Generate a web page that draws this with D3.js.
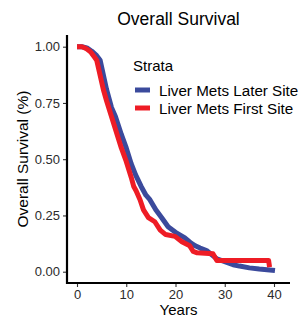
<!DOCTYPE html>
<html>
<head>
<meta charset="utf-8">
<script src="https://cdn.jsdelivr.net/npm/d3@7"></script>
<style>
  html, body { margin: 0; padding: 0; background: #fff; }
  svg { display: block; font-family: "Liberation Sans", Arial, sans-serif; }
</style>
</head>
<body>
<svg id="chart" width="301" height="324"></svg>
<script>
// ---- data ----
const title = "Overall Survival";
const xLabel = "Years";
const yLabel = "Overall Survival (%)";
const legendTitle = "Strata";
const strata = ["Liver Mets Later Site", "Liver Mets First Site"];
const strataColors = ["#3B4A9C", "#EE1C25"];

const xTicks = [0, 10, 20, 30, 40];
const yTicks = [0, 0.25, 0.5, 0.75, 1];
const yTickLabels = ["0.00", "0.25", "0.50", "0.75", "1.00"];

const laterTime = [0, 1, 2, 3, 4, 4.7, 6, 7, 7.8, 9, 10, 11, 11.9, 13, 14, 14.8, 16, 17.2, 18.5, 20, 21.9, 23, 24, 25, 26.3, 28.4, 30, 31.7, 33, 35, 37, 38.6, 40.2];
const laterSurv = [1, 1, 0.995, 0.98, 0.96, 0.94, 0.81, 0.73, 0.69, 0.61, 0.55, 0.48, 0.43, 0.38, 0.34, 0.32, 0.275, 0.24, 0.20, 0.175, 0.15, 0.13, 0.115, 0.105, 0.094, 0.057, 0.045, 0.031, 0.025, 0.017, 0.012, 0.009, 0.005];

const firstTime = [0, 1, 1.5, 2, 2.6, 3, 3.5, 4, 5.35, 6, 7, 8, 9, 10, 11, 11.5, 12, 12.8, 13.5, 14.5, 15.8, 16.9, 18, 19.9, 21.3, 22.9, 23.6, 24.4, 27.6, 28.4, 38.9, 39.1];
const firstSurv = [1, 1, 0.995, 0.99, 0.98, 0.97, 0.955, 0.94, 0.81, 0.76, 0.69, 0.62, 0.55, 0.49, 0.42, 0.38, 0.36, 0.32, 0.275, 0.24, 0.222, 0.185, 0.165, 0.157, 0.133, 0.115, 0.09, 0.084, 0.08, 0.05, 0.05, 0.02];

// ---- layout ----
const svg = d3.select("#chart");
const panel = { left: 67, right: 290, top: 35, bottom: 283 };
const x = d3.scaleLinear().domain([0, 40]).range([77, 274]);
const y = d3.scaleLinear().domain([0, 1]).range([271.7, 46.7]);

// title
svg.append("text").attr("x", 178.5).attr("y", 25).attr("text-anchor", "middle")
  .attr("font-size", 17.5).attr("fill", "#000").text(title);

// curves
const series = [
  { t: laterTime, s: laterSurv, color: strataColors[0] },
  { t: firstTime, s: firstSurv, color: strataColors[1] }
];
const line = d3.line().x(d => x(d[0])).y(d => y(d[1])).curve(d3.curveLinear);
series.forEach(sr => {
  const pts = sr.t.map((t, i) => [t, sr.s[i]]);
  svg.append("path").datum(pts).attr("d", line)
    .attr("fill", "none").attr("stroke", sr.color).attr("stroke-width", 5)
    .attr("stroke-linejoin", "round").attr("stroke-linecap", "butt");
});

// axes
const xAxis = d3.axisBottom(x).tickValues(xTicks).tickSize(4).tickPadding(3);
const gx = svg.append("g").attr("transform", `translate(0,${panel.bottom})`).call(xAxis);
gx.select(".domain").remove();
gx.append("line").attr("x1", panel.left - 1).attr("x2", panel.right).attr("y1", 0).attr("y2", 0)
  .attr("stroke", "#000").attr("stroke-width", 2.2);
gx.selectAll(".tick line").attr("stroke", "#333").attr("stroke-width", 1.1);
gx.selectAll(".tick text").attr("font-size", 13).attr("fill", "#2b2b2b")
  .attr("font-family", "Liberation Sans, Arial, sans-serif");

const yAxis = d3.axisLeft(y).tickValues(yTicks).tickFormat((d, i) => yTickLabels[i]).tickSize(4).tickPadding(3);
const gy = svg.append("g").attr("transform", `translate(${panel.left},0)`).call(yAxis);
gy.select(".domain").remove();
gy.append("line").attr("x1", 0).attr("x2", 0).attr("y1", panel.top).attr("y2", panel.bottom + 1)
  .attr("stroke", "#000").attr("stroke-width", 2.2);
gy.selectAll(".tick line").attr("stroke", "#333").attr("stroke-width", 1.1);
gy.selectAll(".tick text").attr("font-size", 13).attr("fill", "#2b2b2b")
  .attr("font-family", "Liberation Sans, Arial, sans-serif");

// axis titles
svg.append("text").attr("x", 178.5).attr("y", 315).attr("text-anchor", "middle")
  .attr("font-size", 15).attr("fill", "#000").text(xLabel);
svg.append("text").attr("transform", "translate(28,159) rotate(-90)").attr("text-anchor", "middle")
  .attr("font-size", 15.5).attr("fill", "#000").text(yLabel);

// legend
svg.append("text").attr("x", 133).attr("y", 71).attr("font-size", 15).attr("fill", "#000").text(legendTitle);
strata.forEach((name, i) => {
  const cy = 90 + i * 18;
  svg.append("line").attr("x1", 135).attr("x2", 150).attr("y1", cy).attr("y2", cy)
    .attr("stroke", strataColors[i]).attr("stroke-width", 5);
  svg.append("text").attr("x", 159).attr("y", cy + 5.5).attr("font-size", 15.2)
    .attr("fill", "#000").text(name);
});
</script>
</body>
</html>
